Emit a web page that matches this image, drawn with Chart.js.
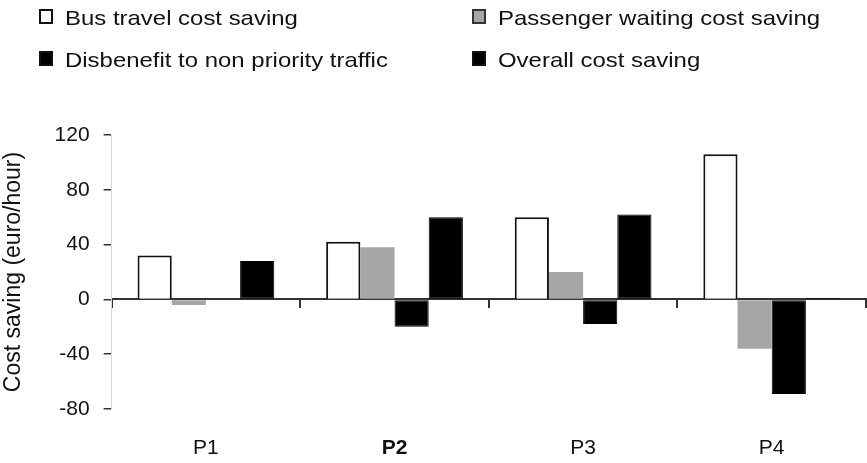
<!DOCTYPE html>
<html><head><meta charset="utf-8">
<script src="https://cdn.jsdelivr.net/npm/chart.js@4/dist/chart.umd.min.js"></script>
<style>
html,body{margin:0;padding:0;background:#fff;}
#wrap{position:relative;width:867px;height:463px;overflow:hidden;}
#wrap canvas{position:absolute;left:0;top:0;}
.lgbox{position:absolute;box-sizing:border-box;width:14px;height:15px;border:2px solid #111;}
.lgtxt{position:absolute;font-family:"Liberation Sans",Arial,sans-serif;font-size:21px;line-height:21px;color:#111;white-space:nowrap;transform-origin:0 50%;transform:scaleX(1.14);}
</style>
</head><body>
<div id="wrap">
<canvas id="c" width="867" height="463"></canvas>
<div id="legend"></div>
</div>
<script>
const categories = ['P1', 'P2', 'P3', 'P4'];
const seriesNames = ['Bus travel cost saving', 'Passenger waiting cost saving', 'Disbenefit to non priority traffic', 'Overall cost saving'];
const busTravel = [32, 42, 60, 106];
const passengerWaiting = [-4, 38, 20, -36];
const disbenefit = [0, -20, -18, -69];
const overall = [28, 60, 62, 1];
const yTicks = [-80, -40, 0, 40, 80, 120];
const yTitle = 'Cost saving (euro/hour)';

const fills = ['#ffffff', '#a6a6a6', '#000000', '#000000'];
const borders = ['#111111', '#a6a6a6', '#000000', '#000000'];
const bw = [2, 0, 1, 1];
const values = [busTravel, passengerWaiting, disbenefit, overall];

// HTML legend (2 x 2)
const lg = document.getElementById('legend');
const lx = [39, 472], ly = [17, 59];
seriesNames.forEach((name, i) => {
  const col = i % 2, row = Math.floor(i / 2);
  const b = document.createElement('div');
  b.className = 'lgbox';
  b.style.left = lx[col] + 'px';
  b.style.top = (ly[row] - 8) + 'px';
  b.style.background = fills[i];
  if (i === 1) b.style.borderColor = '#333';
  lg.appendChild(b);
  const t = document.createElement('div');
  t.className = 'lgtxt';
  t.textContent = name;
  t.style.left = (lx[col] + 26) + 'px';
  t.style.top = (ly[row] - 10) + 'px';
  lg.appendChild(t);
});

const FONT = '"Liberation Sans", Arial, sans-serif';

new Chart(document.getElementById('c'), {
  type: 'bar',
  data: {
    labels: categories,
    datasets: values.map((v, i) => ({
      label: seriesNames[i],
      data: v,
      backgroundColor: fills[i],
      borderColor: borders[i],
      borderWidth: bw[i],
      borderSkipped: i === 0 ? 'bottom' : false,
      categoryPercentage: 0.725,
      barPercentage: 1.0,
      xAxisID: 'x',
      yAxisID: 'y'
    }))
  },
  options: {
    responsive: false,
    animation: false,
    events: [],
    layout: { padding: { top: 135, left: 0, right: 1, bottom: 0 } },
    plugins: { legend: { display: false }, tooltip: { enabled: false } },
    scales: {
      x: {
        type: 'category',
        position: 'bottom',
        afterFit: (s) => { s.height = 54; },
        grid: { display: false, offset: true },
        border: { display: false },
        ticks: {
          padding: 19,
          color: '#111',
          font: (ctx) => ({ family: FONT, size: 21, weight: ctx.index === 1 ? 'bold' : 'normal' })
        }
      },
      x2: {
        type: 'category',
        labels: categories,
        position: { y: 0 },
        offset: true,
        afterFit: (s) => { s.height = 0; },
        grid: { display: true, offset: true, drawOnChartArea: false, drawTicks: true, tickLength: 8, color: '#333', lineWidth: 2 },
        border: { display: true, color: '#333', width: 2 },
        ticks: { display: false }
      },
      y: {
        min: -80,
        max: 120,
        afterBuildTicks: (axis) => { axis.ticks = yTicks.map(v => ({ value: v })); },
        grid: { drawOnChartArea: false, drawTicks: true, tickLength: 8, color: '#333', lineWidth: 1.5 },
        border: { display: true, color: '#d8d8d8', width: 1 },
        ticks: { padding: 14, color: '#111', font: { family: FONT, size: 21 } },
        title: { display: true, text: yTitle, color: '#111', font: { family: FONT, size: 23 }, padding: { top: 0, bottom: 13 } }
      }
    }
  }
});
</script>
</body></html>
